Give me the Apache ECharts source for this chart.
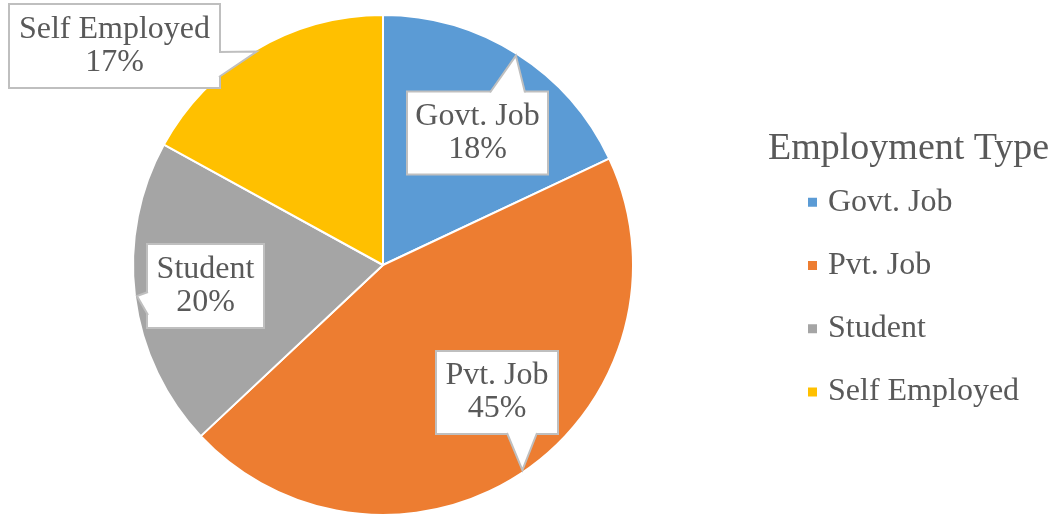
<!DOCTYPE html>
<html>
<head>
<meta charset="utf-8">
<script src="https://cdn.jsdelivr.net/npm/echarts@6/dist/echarts.min.js"></script>
<style>
  html, body { margin: 0; padding: 0; background: #fff; }
  #chart { width: 1057px; height: 515px; }
</style>
</head>
<body>
<div id="chart"></div>
<script>
// Employment type shares (percent)
const categories = ['Govt. Job', 'Pvt. Job', 'Student', 'Self Employed'];
const shares = [18, 45, 20, 17];
const sliceColors = ['#5B9BD5', '#ED7D31', '#A5A5A5', '#FFC000'];
const legendTitle = 'Employment Type';

const FONT = '"Liberation Serif", "Times New Roman", serif';
const TEXT = '#595959';
const BOX_BORDER = '#BFBFBF';

// pie geometry
const PIE_CX = 383, PIE_CY = 265, PIE_R = 250;

// callout boxes: centre, size, and where the pointer leaves the box
const callouts = [
  { cx: 477.5, cy: 133,   w: 139, h: 81, side: 'top',    b0: 490, b1: 525 },
  { cx: 497,   cy: 392.5, w: 120, h: 81, side: 'bottom', b0: 507, b1: 537 },
  { cx: 205.5, cy: 286,   w: 115, h: 82, side: 'left',   b0: 292, b1: 315 },
  { cx: 114.5, cy: 46,    w: 209, h: 82, side: 'right',  b0: 52,  b1: 77 }
];
const LINE_H = 33;
const FONT_SIZE = 32;

// pointer tip: outer-arc midpoint of each slice (clockwise from 12 o'clock)
function sliceTip(i) {
  const total = shares.reduce((a, b) => a + b, 0);
  let cum = 0;
  for (let k = 0; k < i; k++) cum += shares[k];
  const theta = (cum + shares[i] / 2) / total * Math.PI * 2;
  const r = PIE_R - 2;
  return [PIE_CX + r * Math.sin(theta), PIE_CY - r * Math.cos(theta)];
}

function pointerGraphics() {
  const out = [];
  callouts.forEach((c, i) => {
    const x0 = c.cx - c.w / 2, x1 = c.cx + c.w / 2;
    const y0 = c.cy - c.h / 2, y1 = c.cy + c.h / 2;
    const tip = sliceTip(i);
    let a, b, ai, bi;
    const inset = 2;
    if (c.side === 'top')    { a = [c.b0, y0]; b = [c.b1, y0]; ai = [c.b0, y0 + inset]; bi = [c.b1, y0 + inset]; }
    if (c.side === 'bottom') { a = [c.b0, y1]; b = [c.b1, y1]; ai = [c.b0, y1 - inset]; bi = [c.b1, y1 - inset]; }
    if (c.side === 'left')   { a = [x0, c.b0]; b = [x0, c.b1]; ai = [x0 + inset, c.b0]; bi = [x0 + inset, c.b1]; }
    if (c.side === 'right')  { a = [x1, c.b0]; b = [x1, c.b1]; ai = [x1 - inset, c.b0]; bi = [x1 - inset, c.b1]; }
    out.push({
      type: 'polygon', z: 10, silent: true,
      shape: { points: [ai, a, tip, b, bi] },
      style: { fill: '#ffffff', stroke: null }
    });
    out.push({
      type: 'polyline', z: 11, silent: true,
      shape: { points: [a, tip, b] },
      style: { fill: null, stroke: BOX_BORDER, lineWidth: 2 }
    });
  });
  return out;
}

const pieData = categories.map((name, i) => ({
  name: name,
  value: shares[i],
  itemStyle: { color: sliceColors[i] },
  label: {
    width: callouts[i].w,
    padding: [(callouts[i].h - 2 * LINE_H) / 2 + 1, 0, (callouts[i].h - 2 * LINE_H) / 2 - 1, 0]
  }
}));

const chart = echarts.init(document.getElementById('chart'), null, { renderer: 'canvas' });
chart.setOption({
  animation: false,
  backgroundColor: '#ffffff',
  title: {
    text: legendTitle,
    left: 768,
    top: 130,
    padding: 0,
    textStyle: { fontFamily: FONT, fontSize: 38, fontWeight: 'normal', color: TEXT }
  },
  legend: {
    orient: 'vertical',
    left: 806,
    top: 186,
    padding: 0,
    icon: 'rect',
    itemWidth: 11,
    itemHeight: 11,
    itemGap: 31,
    selectedMode: false,
    data: categories,
    textStyle: { fontFamily: FONT, fontSize: FONT_SIZE, color: TEXT, lineHeight: 32.3, padding: [0, 0, 0, 5] }
  },
  series: [{
    type: 'pie',
    center: [PIE_CX, PIE_CY],
    radius: [0, PIE_R],
    startAngle: 90,
    clockwise: true,
    avoidLabelOverlap: false,
    silent: true,
    itemStyle: { borderColor: '#ffffff', borderWidth: 2 },
    label: {
      show: true,
      position: 'inside',
      rotate: 0,
      formatter: p => p.name + '\n' + Math.round(p.percent) + '%',
      fontFamily: FONT,
      fontSize: FONT_SIZE,
      lineHeight: LINE_H,
      color: TEXT,
      align: 'center',
      backgroundColor: '#ffffff',
      borderColor: BOX_BORDER,
      borderWidth: 2
    },
    labelLine: { show: false },
    labelLayout: params => {
      const c = callouts[params.dataIndex];
      return { x: c.cx, y: c.cy, align: 'center', verticalAlign: 'middle' };
    },
    data: pieData
  }],
  graphic: pointerGraphics()
});
</script>
</body>
</html>
